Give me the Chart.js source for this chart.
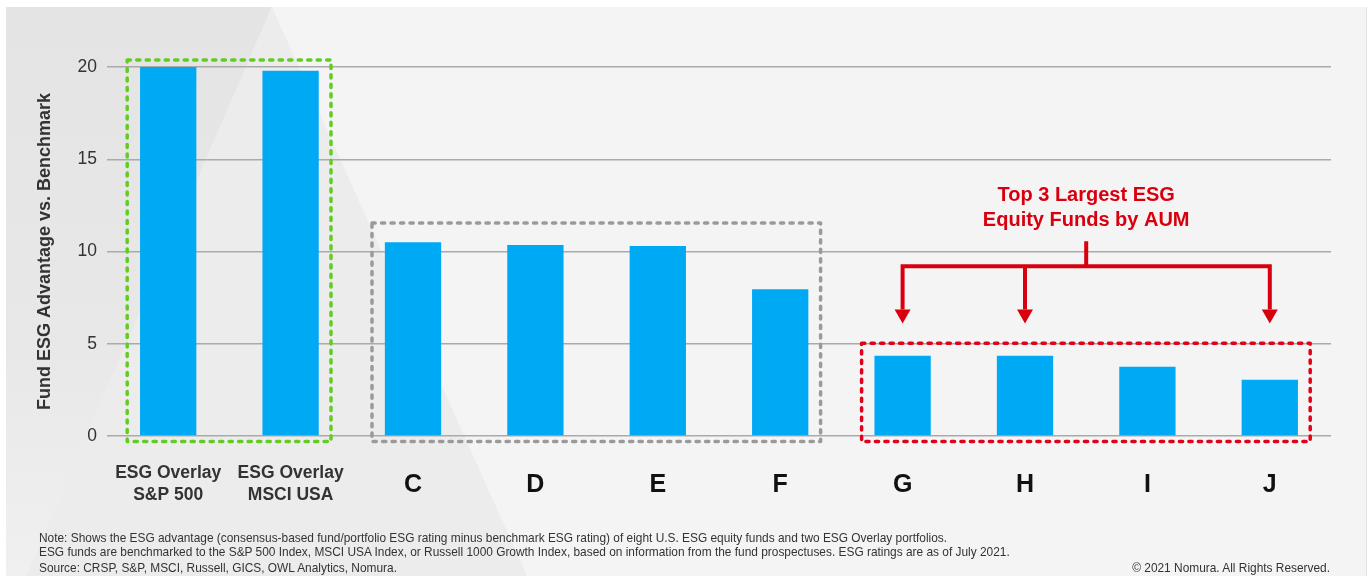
<!DOCTYPE html>
<html>
<head>
<meta charset="utf-8">
<script src="https://cdn.jsdelivr.net/npm/chart.js@4.4.0/dist/chart.umd.min.js"></script>
<style>
  html, body { margin: 0; padding: 0; background: #fff; }
  #wrap { position: relative; width: 1370px; height: 576px; overflow: hidden; }
  #chart { position: absolute; left: 0; top: 0; }
  .note { position: absolute; font: 11.9px "Liberation Sans", Arial, Helvetica, sans-serif; color: #333; white-space: nowrap; line-height: 14px; }
</style>
</head>
<body>
<div id="wrap">
  <canvas id="chart" width="1370" height="576"></canvas>
  <div class="note" style="left:39px; top:531px;">Note: Shows the ESG advantage (consensus-based fund/portfolio ESG rating minus benchmark ESG rating) of eight U.S. ESG equity funds and two ESG Overlay portfolios.</div>
  <div class="note" style="left:39px; top:545px;">ESG funds are benchmarked to the S&amp;P 500 Index, MSCI USA Index, or Russell 1000 Growth Index, based on information from the fund prospectuses. ESG ratings are as of July 2021.</div>
  <div class="note" style="left:39px; top:561px;">Source: CRSP, S&amp;P, MSCI, Russell, GICS, OWL Analytics, Nomura.</div>
  <div class="note" style="right:40px; top:561px;">© 2021 Nomura. All Rights Reserved.</div>
</div>
<script>
// data
const categories = [["ESG Overlay", "S&P 500"], ["ESG Overlay", "MSCI USA"], "C", "D", "E", "F", "G", "H", "I", "J"];
const esgAdvantage = [20.0, 19.8, 10.5, 10.35, 10.3, 7.95, 4.35, 4.35, 3.75, 3.05];
const yTickValues = [0, 5, 10, 15, 20];
const topFunds = [6, 7, 9]; // G, H, J
const noteLines = ["Top 3 Largest ESG", "Equity Funds by AUM"];

Chart.defaults.font.family = '"Liberation Sans", Arial, Helvetica, sans-serif';

const RED = "#d8000f";

// slide background: light panel with the grey wedge shapes on the left
const backdrop = {
    id: "backdrop",
    beforeDraw(chart) {
        const ctx = chart.ctx;
        ctx.save();
        ctx.fillStyle = "#ffffff";
        ctx.fillRect(0, 0, 1370, 576);
        ctx.fillStyle = "#f4f4f4";
        ctx.fillRect(6, 7, 1361, 569);

        const g = ctx.createLinearGradient(0, 7, 0, 576);
        g.addColorStop(0, "#e4e4e4");
        g.addColorStop(0.6, "#e8e8e8");
        g.addColorStop(1, "#f0f0f0");
        ctx.fillStyle = g;
        ctx.beginPath();
        ctx.moveTo(6, 7); ctx.lineTo(272, 7); ctx.lineTo(26, 576); ctx.lineTo(6, 576);
        ctx.closePath(); ctx.fill();

        ctx.fillStyle = "#ececec";
        ctx.beginPath();
        ctx.moveTo(272, 7); ctx.lineTo(527, 576); ctx.lineTo(26, 576);
        ctx.closePath(); ctx.fill();

        ctx.fillStyle = "#e2e2e2";
        ctx.fillRect(1366, 7, 1, 569);
        ctx.restore();
    }
};

// dashed group boxes and the red call-out
const callouts = {
    id: "callouts",
    afterDatasetsDraw(chart) {
        const ctx = chart.ctx, x = chart.scales.x, y = chart.scales.y;
        const cw = x.getPixelForValue(1) - x.getPixelForValue(0);
        const groups = [
            { from: 0, to: 1, top: 20.38, color: "#62cc22" },
            { from: 2, to: 5, top: 11.55, color: "#9a9a9a" },
            { from: 6, to: 9, top: 5.03, color: "#e0001a" }
        ];
        ctx.save();
        ctx.lineWidth = 3.5;
        ctx.lineCap = "round";
        ctx.lineJoin = "round";
        ctx.setLineDash([3.2, 6.3]);
        groups.forEach(gr => {
            const l = x.getPixelForValue(gr.from) - cw * 0.335;
            const r = x.getPixelForValue(gr.to) + cw * 0.33;
            const t = y.getPixelForValue(gr.top);
            const b = y.getPixelForValue(0) + 5.5;
            ctx.strokeStyle = gr.color;
            ctx.beginPath();
            ctx.rect(l, t, r - l, b - t);
            ctx.stroke();
        });
        ctx.setLineDash([]);

        // bracket with arrows down to the three largest funds
        const px = topFunds.map(i => x.getPixelForValue(i));
        const mid = (px[0] + px[px.length - 1]) / 2;
        const yStem = y.getPixelForValue(10.55);
        const yBar = y.getPixelForValue(9.2);
        const yHead = y.getPixelForValue(6.85);
        const yTip = y.getPixelForValue(6.1);
        ctx.strokeStyle = RED;
        ctx.fillStyle = RED;
        ctx.lineWidth = 4;
        ctx.lineCap = "butt";
        ctx.lineJoin = "miter";
        ctx.beginPath();
        ctx.moveTo(mid, yStem); ctx.lineTo(mid, yBar);
        ctx.moveTo(px[0], yHead); ctx.lineTo(px[0], yBar);
        ctx.lineTo(px[2], yBar); ctx.lineTo(px[2], yHead);
        ctx.moveTo(px[1], yBar); ctx.lineTo(px[1], yHead);
        ctx.stroke();
        px.forEach(p => {
            ctx.beginPath();
            ctx.moveTo(p - 8, yHead); ctx.lineTo(p + 8, yHead); ctx.lineTo(p, yTip);
            ctx.closePath(); ctx.fill();
        });

        ctx.font = 'bold 20px "Liberation Sans", Arial, Helvetica, sans-serif';
        ctx.textAlign = "center";
        ctx.textBaseline = "middle";
        ctx.fillText(noteLines[0], mid, y.getPixelForValue(13.05));
        ctx.fillText(noteLines[1], mid, y.getPixelForValue(11.7));
        ctx.restore();
    }
};

new Chart(document.getElementById("chart"), {
    type: "bar",
    data: {
        labels: categories,
        datasets: [{
            data: esgAdvantage,
            backgroundColor: "#00a9f4",
            barPercentage: 0.46,
            categoryPercentage: 1.0
        }]
    },
    options: {
        responsive: false,
        devicePixelRatio: 1,
        animation: false,
        layout: { padding: { top: 67, right: 39, bottom: 0, left: 0 } },
        plugins: { legend: { display: false }, tooltip: { enabled: false } },
        scales: {
            x: {
                grid: { display: false },
                border: { display: false },
                afterFit: s => { s.height = 140; },
                ticks: {
                    autoSkip: false,
                    maxRotation: 0,
                    padding: 18,
                    color: c => c.index < 2 ? "#333333" : "#111111",
                    font: c => c.index < 2
                        ? { size: 17.5, weight: "bold", lineHeight: 22 / 17.5 }
                        : { size: 25, weight: "bold", lineHeight: 46 / 25 }
                }
            },
            y: {
                min: 0,
                max: 20,
                afterFit: s => { s.width = 107; },
                afterBuildTicks: s => { s.ticks = yTickValues.map(v => ({ value: v })); },
                grid: { color: "#aaaaaa", lineWidth: 1.5, drawTicks: false },
                border: { display: false },
                ticks: { padding: 10, color: "#333333", font: { size: 17.5 } },
                title: {
                    display: true,
                    text: "Fund ESG Advantage vs. Benchmark",
                    color: "#333333",
                    font: { size: 18, weight: "bold" },
                    padding: { top: 34, bottom: 0 }
                }
            }
        }
    },
    plugins: [backdrop, callouts]
});
</script>
</body>
</html>
